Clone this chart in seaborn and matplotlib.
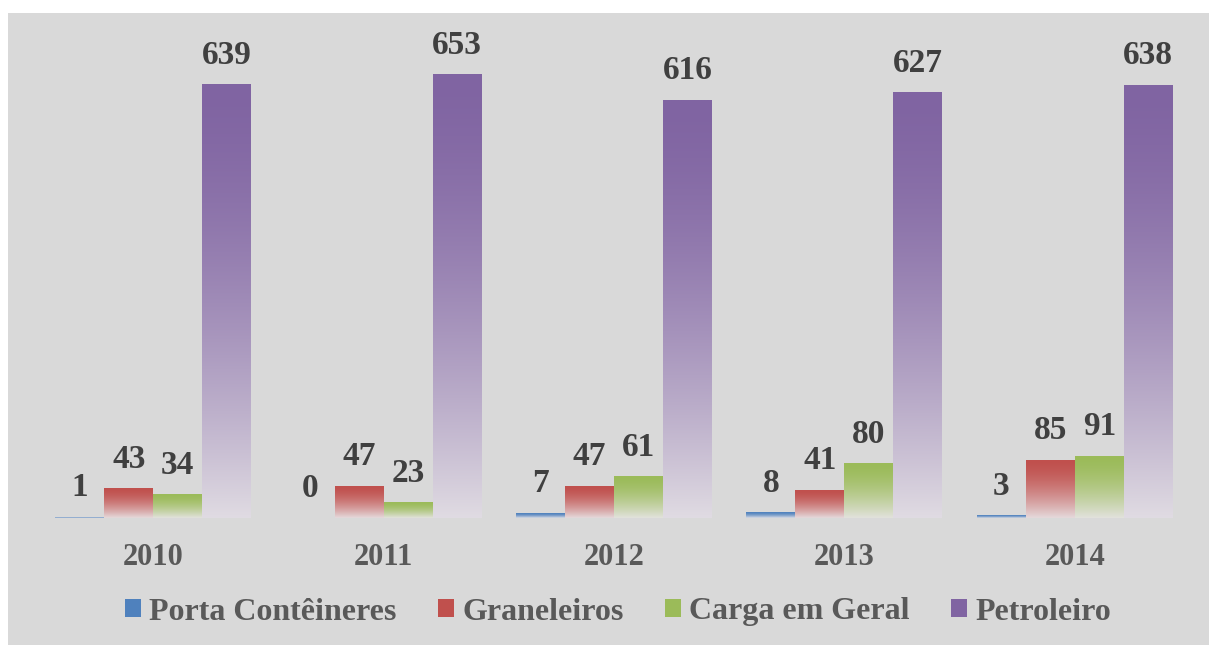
import numpy as np
import pandas as pd
import seaborn as sns
import matplotlib.pyplot as plt
from matplotlib.colors import to_rgb
from matplotlib.patches import Rectangle, Patch

# dados
anos = ["2010", "2011", "2012", "2013", "2014"]
tipos = ["Porta Contêineres", "Graneleiros", "Carga em Geral", "Petroleiro"]
porta_conteineres = [1, 0, 7, 8, 3]
graneleiros = [43, 47, 47, 41, 85]
carga_geral = [34, 23, 61, 80, 91]
petroleiro = [639, 653, 616, 627, 638]
cores = ["#4F81BD", "#C0504D", "#9BBB59", "#8064A2"]

valores = [porta_conteineres, graneleiros, carga_geral, petroleiro]
df = pd.DataFrame({
    "Ano": anos * len(tipos),
    "Tipo": [t for t in tipos for _ in anos],
    "Valor": [v for serie in valores for v in serie],
})

sns.set_style("white")
plt.rcParams["font.family"] = ["Liberation Serif", "DejaVu Serif"]
plt.rcParams["font.weight"] = "bold"

fig = plt.figure(figsize=(12.09, 6.45), dpi=100, facecolor="white")
fig.patches.append(Rectangle((8 / 1209, 0), 1, 632 / 645, transform=fig.transFigure,
                             facecolor="#D9D9D9", edgecolor="none", zorder=-10))
ax = fig.add_axes([38 / 1209, 127 / 645, 1152 / 1209, 475 / 645])
ax.set_facecolor("none")

sns.barplot(data=df, x="Ano", y="Valor", hue="Tipo", palette=cores, width=0.85,
            ax=ax, legend=False, saturation=1)

# gradiente vertical em cada barra (cor cheia em cima, clara embaixo)
claro = np.array([0.91, 0.90, 0.91])
t = np.linspace(0, 1, 256) ** 1.6
for cont, cor in zip(ax.containers, cores):
    base = np.array(to_rgb(cor))
    fim = 0.08 * base + 0.92 * claro
    grad = np.ones((256, 1, 4))
    grad[:, 0, :3] = base[None, :] * (1 - t[:, None]) + fim[None, :] * t[:, None]
    for p in cont:
        x, y, w, h = p.get_x(), p.get_y(), p.get_width(), p.get_height()
        if h > 0:
            ax.imshow(grad, extent=[x, x + w, y, y + h], aspect="auto",
                      origin="upper", zorder=2, interpolation="bilinear")
        p.set_visible(False)
    ax.bar_label(cont, labels=[str(int(v)) for v in cont.datavalues], padding=10,
                 fontsize=24, fontweight="bold", color="#404040")

ax.set_xlim(-0.5, 4.5)
ax.set_ylim(0, 700)
for s in ax.spines.values():
    s.set_visible(False)
ax.set_yticks([])
ax.set_xlabel("")
ax.set_ylabel("")
ax.tick_params(axis="x", length=0, pad=18, labelsize=22, labelcolor="#595959")
for lab in ax.get_xticklabels():
    lab.set_fontweight("bold")

handles = [Patch(facecolor=c, edgecolor="none") for c in cores]
fig.legend(handles, tipos, loc="center", bbox_to_anchor=(618 / 1209, 33 / 645),
           ncol=4, frameon=False, handlelength=0.5, handleheight=0.5,
           handletextpad=0.25, columnspacing=1.3, labelcolor="#595959",
           prop={"weight": "bold", "size": 23})

fig.savefig("out.png", dpi=100, facecolor="white")
